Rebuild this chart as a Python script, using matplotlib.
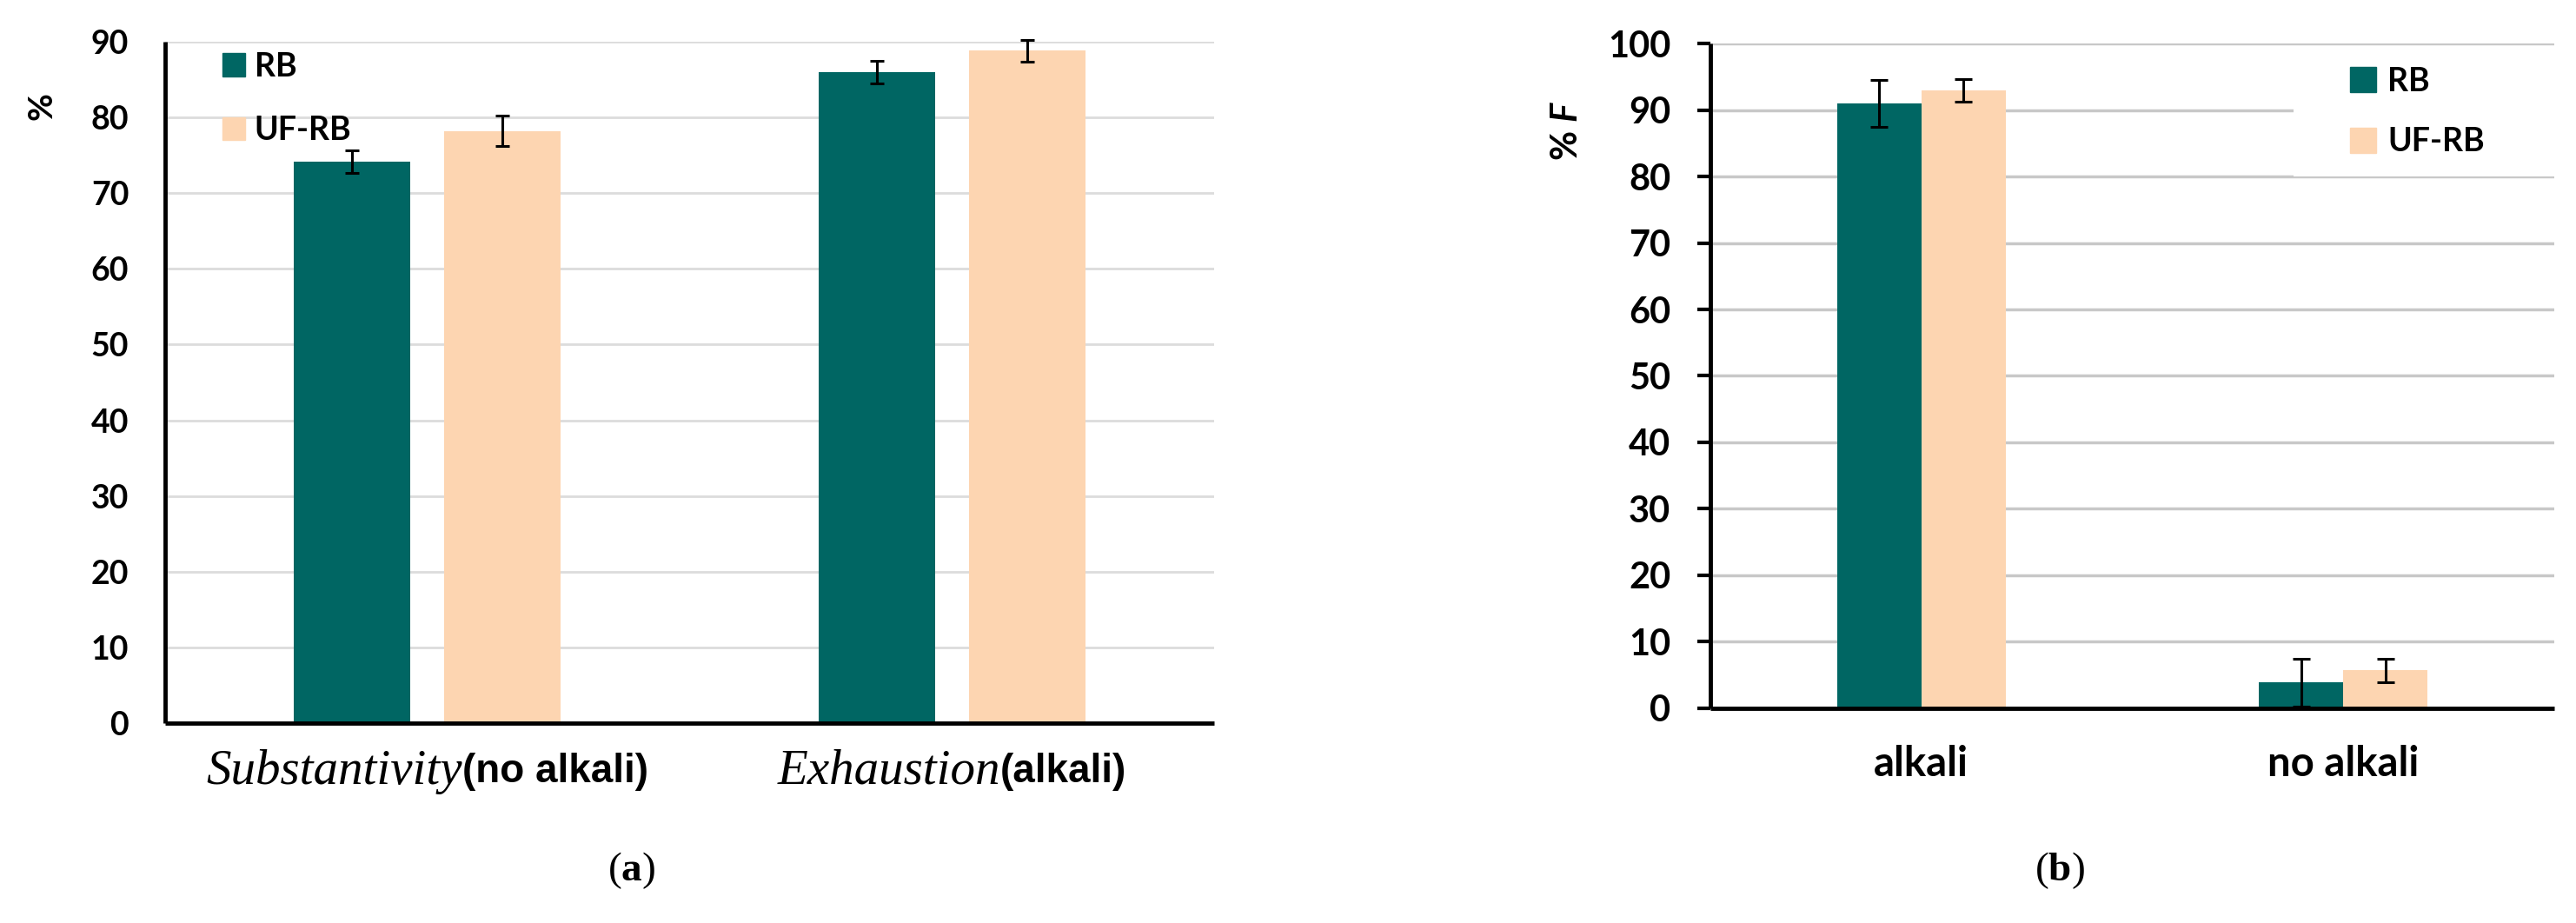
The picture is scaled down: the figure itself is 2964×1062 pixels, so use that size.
import matplotlib
matplotlib.use("Agg")
import matplotlib.pyplot as plt
import numpy as np
from matplotlib.patches import Patch, Rectangle
from matplotlib.transforms import blended_transform_factory, offset_copy

plt.rcParams["font.family"] = ["Lato", "DejaVu Sans"]
plt.rcParams["mathtext.fontset"] = "custom"
plt.rcParams["mathtext.rm"] = "Liberation Serif"
plt.rcParams["mathtext.it"] = "Liberation Serif:italic"
plt.rcParams["mathtext.bf"] = "Liberation Serif:bold"
plt.rcParams["mathtext.bfit"] = "Lato:italic:bold"

# data
series = ["RB", "UF-RB"]
colors = ["#006663", "#FDD5B1"]

a_cats_it = ["Substantivity", "Exhaustion"]
a_cats_bd = ["(no alkali)", "(alkali)"]
a_rb = [74.2, 86]
a_rb_err = [1.5, 1.5]
a_uf = [78.2, 88.8]
a_uf_err = [2.0, 1.4]

b_cats = ["alkali", "no alkali"]
b_rb = [91, 3.9]
b_rb_err = [3.5, 3.6]
b_uf = [93, 5.7]
b_uf_err = [1.7, 1.8]

fig = plt.figure(figsize=(29.64, 10.62), dpi=100)


def style(ax, ymax, grid_col, grid_lw, fs):
    ax.set_ylim(0, ymax)
    ax.set_yticks(np.arange(0, ymax + 1, 10))
    ax.yaxis.grid(True, color=grid_col, linewidth=grid_lw)
    ax.set_axisbelow(True)
    for s in ["top", "right"]:
        ax.spines[s].set_visible(False)
    for s in ["left", "bottom"]:
        ax.spines[s].set_linewidth(3.5)
        ax.spines[s].set_capstyle("butt")
    ax.tick_params(axis="y", labelsize=fs, width=3)
    ax.tick_params(axis="x", length=0)
    for lab in ax.get_yticklabels():
        lab.set_fontweight("bold")


ekw = dict(elinewidth=2.2, capthick=2.2, ecolor="black", clip_on=False)

# ---- panel (a)
ax1 = fig.add_axes([0.0641, 0.2166, 0.4073, 0.7382])
x = np.arange(len(a_cats_it))
w, off = 0.222, 0.143
ax1.bar(x - off, a_rb, w, color=colors[0], yerr=a_rb_err, capsize=6, error_kw=ekw)
ax1.bar(x + off, a_uf, w, color=colors[1], yerr=a_uf_err, capsize=6, error_kw=ekw)
ax1.set_xlim(-0.5, 1.5)
style(ax1, 90, "#dcdcdc", 2.0, 27)
ax1.tick_params(axis="y", length=0, pad=30)
ax1.set_xticks(x)
ax1.set_xticklabels([])

# category labels: italic serif word + bold sans part, centred on the group
tr1 = blended_transform_factory(ax1.transData, ax1.transAxes)
renderer = fig.canvas.get_renderer()
for xi, it, bd in zip(x, a_cats_it, a_cats_bd):
    t_it = ax1.text(xi, -0.071, it, transform=tr1, ha="right", va="center",
                    fontsize=41, style="italic", family="Liberation Serif")
    t_bd = ax1.text(xi, -0.071, bd, transform=tr1, ha="left", va="center",
                    fontsize=33, fontweight="bold", family="Liberation Sans")
    w_it = t_it.get_window_extent(renderer).width
    w_bd = t_bd.get_window_extent(renderer).width
    shift = (w_it - w_bd) / 2 * 72 / fig.dpi
    t_it.set_transform(offset_copy(tr1, fig=fig, x=shift, y=0, units="points"))
    t_bd.set_transform(offset_copy(tr1, fig=fig, x=shift, y=0, units="points"))

ax1.text(-0.1176, 0.905, "%", transform=ax1.transAxes, rotation=90,
         fontsize=28, fontweight="bold", ha="center", va="center")
ax1.legend(handles=[Patch(color=c, label=s) for c, s in zip(colors, series)],
           loc="upper left", bbox_to_anchor=(0.0547, 0.985), frameon=False,
           borderpad=0, borderaxespad=0, prop={"weight": "bold", "size": 27},
           handlelength=0.68, handleheight=0.72, handletextpad=0.3, labelspacing=1.05)
fig.text(0.245, 0.0565, r"($\mathbf{a}$)", fontsize=34, ha="center", va="center",
         family="Liberation Serif")

# ---- panel (b)
ax2 = fig.add_axes([0.664, 0.2326, 0.3276, 0.7203])
xb = np.arange(len(b_cats))
wb = 0.2
ax2.bar(xb - wb / 2, b_rb, wb, color=colors[0], yerr=b_rb_err, capsize=7.5, error_kw=ekw)
ax2.bar(xb + wb / 2, b_uf, wb, color=colors[1], yerr=b_uf_err, capsize=7.5, error_kw=ekw)
ax2.set_xlim(-0.5, 1.5)
style(ax2, 100, "#c8c8c8", 2.5, 30)
ax2.tick_params(axis="y", length=11, pad=22)
ax2.set_xticks(xb)
ax2.set_xticklabels(b_cats, fontsize=34, fontweight="bold")
ax2.tick_params(axis="x", pad=30)
ax2.text(-0.17, 0.869, r"% $\mathbfit{F}$", transform=ax2.transAxes, rotation=90,
         fontsize=30, fontweight="bold", ha="center", va="center")
# white legend area hiding the 90 gridline
ax2.add_patch(Rectangle((0.691, 0.8), 0.309, 0.16, transform=ax2.transAxes,
                        facecolor="white", edgecolor="none", zorder=0.8))
ax2.legend(handles=[Patch(color=c, label=s) for c, s in zip(colors, series)],
           loc="upper left", bbox_to_anchor=(0.758, 0.965), frameon=False,
           borderpad=0, borderaxespad=0, prop={"weight": "bold", "size": 27},
           handlelength=0.8, handleheight=0.8, handletextpad=0.35, labelspacing=0.95)
fig.text(0.7996, 0.0565, r"($\mathbf{b}$)", fontsize=34, ha="center", va="center",
         family="Liberation Serif")

fig.savefig("out.png", dpi=100)
